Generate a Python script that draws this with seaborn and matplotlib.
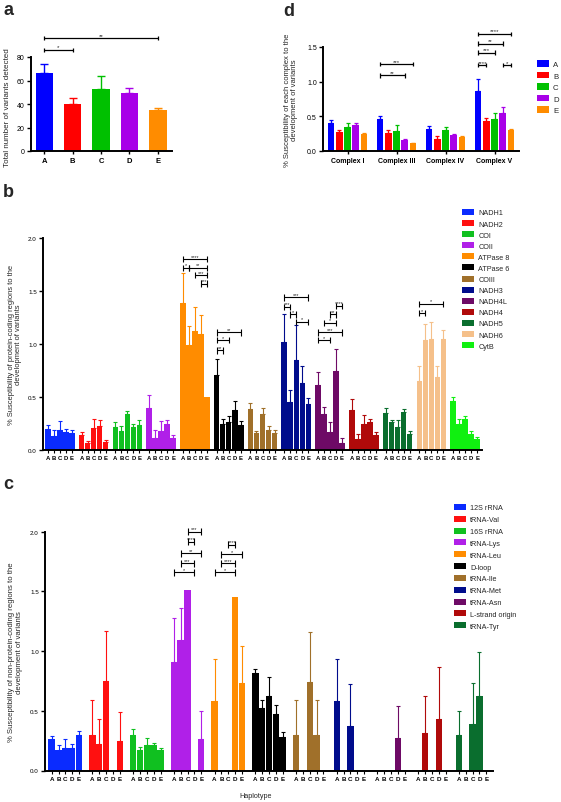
import numpy as np
import pandas as pd
import matplotlib
matplotlib.use("Agg")
import matplotlib.pyplot as plt
import seaborn as sns
from matplotlib.patches import Patch
from matplotlib.container import BarContainer

nan = np.nan

# ---------------- data ----------------
haplotypes = ["A", "B", "C", "D", "E"]
hap_colors = ["#0000FF", "#FF0000", "#00C000", "#A800E8", "#FF8C00"]

# panel a: total number of variants
a_total = [66, 40, 53, 49, 35]
a_total_top = [74, 45, 64, 54, 37]

# panel d: complexes
d_complexes = ["Complex I", "Complex III", "Complex IV", "Complex V"]
d_complex_I = [0.40, 0.27, 0.34, 0.37, 0.24]
d_complex_I_top = [0.44, 0.30, 0.40, 0.40, 0.26]
d_complex_III = [0.46, 0.26, 0.29, 0.16, 0.11]
d_complex_III_top = [0.51, 0.30, 0.38, 0.18, 0.12]
d_complex_IV = [0.32, 0.17, 0.31, 0.23, 0.20]
d_complex_IV_top = [0.36, 0.21, 0.35, 0.25, 0.22]
d_complex_V = [0.87, 0.43, 0.46, 0.55, 0.31]
d_complex_V_top = [1.04, 0.48, 0.55, 0.63, 0.32]

# panel b: protein-coding regions
b_regions = ["NADH1", "NADH2", "COI", "COII", "ATPase 8", "ATPase 6", "COIII",
             "NADH3", "NADH4L", "NADH4", "NADH5", "NADH6", "CytB"]
b_colors = ["#0A2BFF", "#FF1010", "#10C020", "#B020E8", "#FF8C00", "#000000", "#A0702A",
            "#000C8C", "#6E0A66", "#B00A0A", "#0A6E2E", "#F5C08A", "#10F010"]
b_NADH1 = [0.20, 0.13, 0.19, 0.17, 0.16]
b_NADH1_top = [0.24, 0.19, 0.27, 0.20, 0.19]
b_NADH2 = [0.14, 0.07, 0.21, 0.23, 0.075]
b_NADH2_top = [0.17, 0.085, 0.29, 0.28, 0.095]
b_COI = [0.22, 0.18, 0.34, 0.22, 0.24]
b_COI_top = [0.26, 0.23, 0.37, 0.25, 0.28]
b_COII = [0.40, 0.11, 0.18, 0.25, 0.11]
b_COII_top = [0.52, 0.19, 0.27, 0.28, 0.14]
b_ATPase8 = [1.39, 0.99, 1.12, 1.09, 0.50]
b_ATPase8_top = [1.67, 1.17, 1.35, 1.27, nan]
b_ATPase6 = [0.71, 0.25, 0.26, 0.38, 0.24]
b_ATPase6_top = [0.86, 0.29, 0.32, 0.46, 0.27]
b_COIII = [0.39, 0.16, 0.34, 0.19, 0.16]
b_COIII_top = [0.44, 0.18, 0.40, 0.23, 0.19]
b_NADH3 = [1.02, 0.45, 0.85, 0.63, 0.43]
b_NADH3_top = [1.28, 0.57, 1.18, 0.79, 0.49]
b_NADH4L = [0.61, 0.34, 0.17, 0.75, 0.07]
b_NADH4L_top = [0.74, 0.41, 0.26, 0.95, 0.11]
b_NADH4 = [0.38, 0.10, 0.25, 0.26, 0.14]
b_NADH4_top = [0.48, 0.15, 0.33, 0.29, 0.17]
b_NADH5 = [0.35, 0.26, 0.22, 0.36, 0.15]
b_NADH5_top = [0.40, 0.28, 0.28, 0.39, 0.18]
b_NADH6 = [0.65, 1.04, 1.05, 0.69, 1.05]
b_NADH6_top = [0.79, 1.19, 1.21, 0.79, 1.13]
b_CytB = [0.46, 0.25, 0.29, 0.15, 0.10]
b_CytB_top = [0.50, 0.29, 0.32, 0.18, 0.12]

# panel c: non-protein-coding regions
c_regions = ["12S rRNA", "tRNA-Val", "16S rRNA", "tRNA-Lys", "tRNA-Leu", "D-loop",
             "tRNA-Ile", "tRNA-Met", "tRNA-Asn", "L-strand origin", "tRNA-Tyr"]
c_colors = ["#0A2BFF", "#FF1010", "#10C020", "#B020E8", "#FF8C00", "#000000", "#A0702A",
            "#000C8C", "#6E0A66", "#B00A0A", "#0A6E2E"]
c_12S = [0.26, 0.17, 0.19, 0.19, 0.30]
c_12S_top = [0.29, 0.21, 0.26, 0.22, 0.33]
c_Val = [0.30, 0.22, 0.75, 0.0, 0.25]
c_Val_top = [0.59, 0.43, 1.17, nan, 0.49]
c_16S = [0.30, 0.17, 0.21, 0.21, 0.175]
c_16S_top = [0.35, 0.20, 0.27, 0.23, 0.19]
c_Lys = [0.91, 1.09, 1.51, 0.0, 0.26]
c_Lys_top = [1.28, 1.36, nan, nan, 0.50]
c_Leu = [0.58, 0.0, 0.0, 1.45, 0.73]
c_Leu_top = [0.93, nan, nan, nan, 1.04]
c_Dloop = [0.82, 0.52, 0.625, 0.47, 0.28]
c_Dloop_top = [0.85, 0.59, 0.78, 0.55, 0.325]
c_Ile = [0.30, 0.0, 0.74, 0.30, 0.0]
c_Ile_top = [0.59, nan, 1.16, 0.59, nan]
c_Met = [0.58, 0.0, 0.37, 0.0, 0.0]
c_Met_top = [0.93, nan, 0.725, nan, nan]
c_Asn = [0.0, 0.0, 0.0, 0.275, 0.0]
c_Asn_top = [nan, nan, nan, 0.54, nan]
c_Lstrand = [0.0, 0.31, 0.0, 0.435, 0.0]
c_Lstrand_top = [nan, 0.62, nan, 0.87, nan]
c_Tyr = [0.30, 0.0, 0.39, 0.62, 0.0]
c_Tyr_top = [0.50, nan, 0.73, 0.99, nan]

b_means = [b_NADH1, b_NADH2, b_COI, b_COII, b_ATPase8, b_ATPase6, b_COIII,
           b_NADH3, b_NADH4L, b_NADH4, b_NADH5, b_NADH6, b_CytB]
b_tops = [b_NADH1_top, b_NADH2_top, b_COI_top, b_COII_top, b_ATPase8_top, b_ATPase6_top,
          b_COIII_top, b_NADH3_top, b_NADH4L_top, b_NADH4_top, b_NADH5_top, b_NADH6_top, b_CytB_top]
c_means = [c_12S, c_Val, c_16S, c_Lys, c_Leu, c_Dloop, c_Ile, c_Met, c_Asn, c_Lstrand, c_Tyr]
c_tops = [c_12S_top, c_Val_top, c_16S_top, c_Lys_top, c_Leu_top, c_Dloop_top, c_Ile_top,
          c_Met_top, c_Asn_top, c_Lstrand_top, c_Tyr_top]
d_means = [d_complex_I, d_complex_III, d_complex_IV, d_complex_V]
d_tops = [d_complex_I_top, d_complex_III_top, d_complex_IV_top, d_complex_V_top]

# ---------------- style ----------------
sns.set_theme(style="ticks")
plt.rcParams["font.family"] = ["Liberation Sans", "DejaVu Sans"]
plt.rcParams["axes.linewidth"] = 1.4
plt.rcParams["axes.edgecolor"] = "black"
plt.rcParams["xtick.color"] = "black"
plt.rcParams["ytick.color"] = "black"
plt.rcParams["xtick.major.width"] = 1.0
plt.rcParams["ytick.major.width"] = 1.0
plt.rcParams["xtick.major.size"] = 2.5
plt.rcParams["ytick.major.size"] = 3
plt.rcParams["xtick.major.pad"] = 1.5
plt.rcParams["ytick.major.pad"] = 1.5

W, H = 561, 803
fig = plt.figure(figsize=(W / 100, H / 100), dpi=100)


def axes_px(x0, x1, ytop, ybot):
    return fig.add_axes([x0 / W, 1 - ybot / H, (x1 - x0) / W, (ybot - ytop) / H])


def grouped(ax, groups, means, tops, colors, width, gap, by_group=True, cap=1.2, elw=0.8):
    rows = []
    for g, vals in zip(groups, means):
        for h, v in zip(haplotypes, vals):
            rows.append({"group": g, "hap": h, "value": v})
    df = pd.DataFrame(rows)
    sns.barplot(data=df, x="group", y="value", hue="hap", order=groups, hue_order=haplotypes,
                palette=dict(zip(haplotypes, hap_colors)), width=width, gap=gap,
                errorbar=None, legend=False, ax=ax, saturation=1, linewidth=0)
    bar_conts = [c for c in ax.containers if isinstance(c, BarContainer)]
    centers = {}
    for j, cont in enumerate(bar_conts):
        for bar in list(cont.patches):
            xc = bar.get_x() + bar.get_width() / 2
            i = int(round(xc))
            col = colors[i] if by_group else colors[j]
            bar.set_facecolor(col)
            centers[(i, j)] = xc
            val = means[i][j]
            top = tops[i][j]
            if not np.isnan(top) and top > val:
                ax.errorbar(xc, val, yerr=[[0], [top - val]], fmt="none", ecolor=col,
                            elinewidth=elw, capsize=cap, capthick=elw, zorder=3)
    return centers


def bracket(ax, x1, x2, y, text, h, fs=4.3, lw=0.9):
    kw = dict(color="black", lw=lw, clip_on=False, solid_capstyle="butt", zorder=4)
    ax.plot([x1, x2], [y, y], **kw)
    ax.plot([x1, x1], [y - h, y + h], **kw)
    ax.plot([x2, x2], [y - h, y + h], **kw)
    ax.annotate(text, xy=((x1 + x2) / 2, y), xytext=(0, 0.3), textcoords="offset points",
                ha="center", va="bottom", fontsize=fs, annotation_clip=False)


def style_axis(ax):
    sns.despine(ax=ax)
    ax.set_xlabel("")
    ax.set_ylabel("")


# ---------------- panel a ----------------
axa = axes_px(31, 172, 58, 152)
dfa = pd.DataFrame({"hap": haplotypes, "total": a_total})
sns.barplot(data=dfa, x="hap", y="total", hue="hap", order=haplotypes, hue_order=haplotypes,
            palette=hap_colors, width=0.62, errorbar=None, legend=False, ax=axa,
            saturation=1, linewidth=0)
a_bars = list(axa.patches)
for bar, col, val, top in zip(a_bars, hap_colors, a_total, a_total_top):
    xc = bar.get_x() + bar.get_width() / 2
    axa.errorbar(xc, val, yerr=[[0], [top - val]], fmt="none", ecolor=col,
                 elinewidth=1.0, capsize=3, capthick=1.0, zorder=3)
style_axis(axa)
axa.set_xlim(-0.47, 4.5)
axa.set_ylim(0, 80)
axa.set_yticks([0, 20, 40, 60, 80])
axa.tick_params(axis="y", labelsize=5)
axa.tick_params(axis="x", labelsize=5.5)
for t in axa.get_xticklabels():
    t.set_fontweight("bold")
axa.set_ylabel("Total number of variants detected", fontsize=5.8)
axa.yaxis.set_label_coords(-0.145, 0.47)
xa = [b.get_x() + b.get_width() / 2 for b in a_bars]
bracket(axa, xa[0], xa[1], 86, "*", 1.7, fs=4.5)
bracket(axa, xa[0], xa[4], 96, "**", 1.7, fs=4.5)

# ---------------- panel d ----------------
axd = axes_px(323, 519, 48, 152)
cd = grouped(axd, d_complexes, d_means, d_tops, hap_colors, width=0.83, gap=0.2,
             by_group=False, cap=1.5, elw=0.9)
style_axis(axd)
axd.set_xlim(-0.5, 3.5)
axd.set_ylim(0, 1.5)
axd.set_yticks([0, 0.5, 1.0, 1.5])
axd.set_yticklabels(["0.0", "0.5", "1.0", "1.5"])
axd.tick_params(axis="y", labelsize=5)
axd.tick_params(axis="x", labelsize=5)
for t in axd.get_xticklabels():
    t.set_fontweight("bold")
axd.set_ylabel("% Susceptibility of each complex to the\ndevelopment of variants", fontsize=5.5,
               linespacing=1.15)
axd.yaxis.set_label_coords(-0.125, 0.5)
hd = 0.03
for (g, a, b_, y, s) in [(1, 0, 3, 1.09, "**"), (1, 0, 4, 1.25, "***"),
                         (3, 0, 1, 1.24, "****"), (3, 0, 2, 1.42, "***"),
                         (3, 0, 3, 1.55, "**"), (3, 0, 4, 1.69, "****"), (3, 3, 4, 1.24, "*")]:
    bracket(axd, cd[(g, a)], cd[(g, b_)], y, s, hd, fs=4.3)
axd.legend(handles=[Patch(facecolor=c, edgecolor="none", label=h) for h, c in zip(haplotypes, hap_colors)],
           loc="upper left", bbox_to_anchor=(537 / W, 1 - 61 / H), bbox_transform=fig.transFigure,
           frameon=False, fontsize=5.6, handlelength=1.6, handleheight=0.95, labelspacing=0.45,
           handletextpad=0.45, borderpad=0, borderaxespad=0)

# ---------------- panel b ----------------
axb = axes_px(43, 482, 239, 451)
cb = grouped(axb, b_regions, b_means, b_tops, b_colors, width=0.89, gap=0.08)
style_axis(axb)
axb.set_xlim(-0.5, len(b_regions) - 0.5)
axb.set_ylim(0, 2.0)
axb.set_yticks([0, 0.5, 1.0, 1.5, 2.0])
axb.set_yticklabels(["0.0", "0.5", "1.0", "1.5", "2.0"])
ticks_b = sorted(cb.values())
axb.set_xticks(ticks_b)
axb.set_xticklabels(haplotypes * len(b_regions))
axb.tick_params(axis="x", labelsize=4.3, length=2.2, width=0.8)
axb.tick_params(axis="y", labelsize=4.5)
for t in axb.get_xticklabels():
    t.set_fontweight("bold")
axb.set_ylabel("% Susceptibility of protein-coding regions to the\ndevelopment of variants",
               fontsize=5.4, linespacing=1.15)
axb.yaxis.set_label_coords(-0.047, 0.5)
hb = 0.03
for (g, a, b_, y, s) in [(4, 0, 4, 1.80, "****"), (4, 0, 1, 1.72, "*"), (4, 1, 4, 1.72, "**"),
                         (4, 2, 4, 1.65, "***"), (4, 3, 4, 1.57, "***"),
                         (5, 0, 4, 1.11, "**"), (5, 0, 2, 1.035, "*"), (5, 0, 1, 0.94, "**"),
                         (7, 0, 4, 1.44, "***"), (7, 0, 1, 1.35, "***"), (7, 1, 2, 1.28, "*"),
                         (7, 2, 4, 1.21, "*"),
                         (8, 3, 4, 1.36, "****"), (8, 2, 3, 1.28, "**"), (8, 1, 3, 1.20, "*"),
                         (8, 0, 4, 1.11, "***"), (8, 0, 2, 1.035, "*"),
                         (11, 0, 4, 1.38, "*"), (11, 0, 1, 1.29, "*")]:
    bracket(axb, cb[(g, a)], cb[(g, b_)], y, s, hb, fs=4.0, lw=0.8)
axb.legend(handles=[Patch(facecolor=c, edgecolor="none", label=r) for r, c in zip(b_regions, b_colors)],
           loc="upper left", bbox_to_anchor=(462 / W, 1 - 210 / H), bbox_transform=fig.transFigure,
           frameon=False, fontsize=5.2, handlelength=1.65, handleheight=0.9, labelspacing=0.5,
           handletextpad=0.6, borderpad=0, borderaxespad=0)

# ---------------- panel c ----------------
axc = axes_px(45, 493, 532.7, 771.5)
cc = grouped(axc, c_regions, c_means, c_tops, c_colors, width=0.84, gap=0.06)
style_axis(axc)
axc.set_xlim(-0.5, len(c_regions) - 0.5)
axc.set_ylim(0, 2.0)
axc.set_yticks([0, 0.5, 1.0, 1.5, 2.0])
axc.set_yticklabels(["0.0", "0.5", "1.0", "1.5", "2.0"])
ticks_c = sorted(cc.values())
axc.set_xticks(ticks_c)
axc.set_xticklabels(haplotypes * len(c_regions))
axc.tick_params(axis="x", labelsize=4.5, length=2.2, width=0.8)
axc.tick_params(axis="y", labelsize=4.5)
for t in axc.get_xticklabels():
    t.set_fontweight("bold")
axc.set_ylabel("% Susceptibility of non-protein-coding regions to the\ndevelopment of variants",
               fontsize=5.6, linespacing=1.15)
axc.yaxis.set_label_coords(-0.05, 0.5)
axc.set_xlabel("Haplotype", fontsize=5.2)
axc.xaxis.set_label_coords(0.47, -0.09)
hc = 0.03
for (g, a, b_, y, s) in [(3, 2, 4, 2.00, "***"), (3, 2, 3, 1.915, "****"), (3, 1, 4, 1.82, "**"),
                         (3, 1, 3, 1.735, "***"), (3, 0, 3, 1.66, "*"),
                         (4, 2, 3, 1.89, "****"), (4, 1, 4, 1.81, "*"), (4, 1, 3, 1.735, "****"),
                         (4, 0, 3, 1.66, "*")]:
    bracket(axc, cc[(g, a)], cc[(g, b_)], y, s, hc, fs=4.0, lw=0.8)
axc.legend(handles=[Patch(facecolor=c, edgecolor="none", label=r) for r, c in zip(c_regions, c_colors)],
           loc="upper left", bbox_to_anchor=(454 / W, 1 - 505 / H), bbox_transform=fig.transFigure,
           frameon=False, fontsize=5.2, handlelength=1.65, handleheight=0.9, labelspacing=0.6,
           handletextpad=0.6, borderpad=0, borderaxespad=0)

# ---------------- panel letters ----------------
for letter, x, y in [("a", 3, 15), ("b", 3, 197), ("c", 3, 489), ("d", 283, 16)]:
    fig.text(x / W, 1 - y / H, letter, fontsize=13, fontweight="bold", va="baseline", ha="left")

fig.savefig("out.png", dpi=100)
